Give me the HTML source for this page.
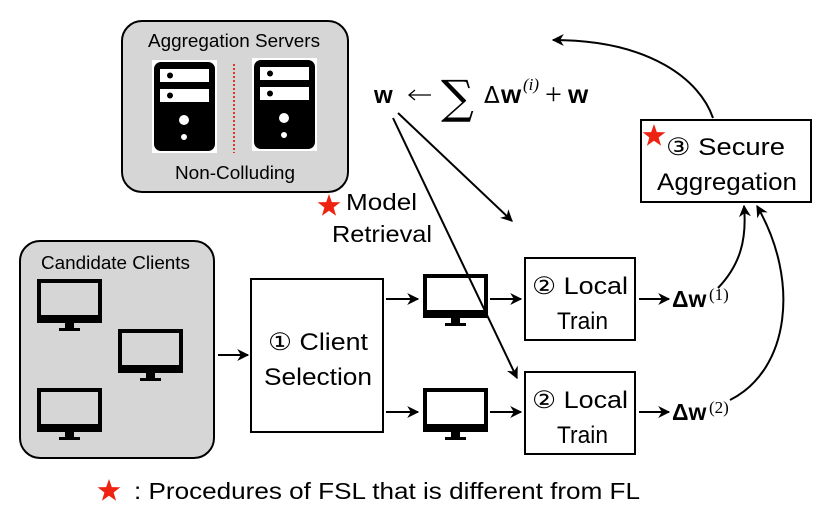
<!DOCTYPE html>
<html><head><meta charset="utf-8"><style>
html,body{margin:0;padding:0;background:#fff;}
svg{display:block;font-family:"Liberation Sans",sans-serif;}
</style></head><body>
<svg width="830" height="518" viewBox="0 0 830 518" xmlns="http://www.w3.org/2000/svg">
<defs>
<marker id="ah" viewBox="0 0 10 10" refX="9" refY="5" markerWidth="6" markerHeight="6" orient="auto"><path d="M0,0 L10,5 L0,10 L3,5 z" fill="#000"/></marker>
<g id="srv">
<rect x="0" y="0" width="65" height="93" fill="#fff"/>
<rect x="2" y="2" width="61" height="89" rx="7" fill="#000"/>
<rect x="8" y="9" width="49" height="13" fill="#fff"/>
<rect x="8" y="29" width="49" height="13" fill="#fff"/>
<circle cx="18" cy="15.5" r="3" fill="#000"/>
<circle cx="18" cy="35.5" r="3" fill="#000"/>
<circle cx="32" cy="60" r="5" fill="#fff"/>
<circle cx="32" cy="77" r="3" fill="#fff"/>
</g>
<g id="mon">
<rect x="2" y="2" width="61" height="40" fill="none" stroke="#000" stroke-width="4"/>
<rect x="0" y="36" width="65" height="8" fill="#000"/>
<rect x="28" y="44" width="9" height="6" fill="#000"/>
<rect x="22" y="49" width="21" height="3" fill="#000"/>
</g>
<path id="star" d="M0,-12 L2.8,-3.9 L11.4,-3.7 L4.6,1.5 L7.1,9.7 L0,4.8 L-7.1,9.7 L-4.6,1.5 L-11.4,-3.7 L-2.8,-3.9 Z" fill="#ee2211"/>
</defs>

<rect x="122" y="21" width="226" height="171" rx="20" fill="#d6d6d6" stroke="#000" stroke-width="2"/>
<text x="148" y="47" font-size="18" textLength="172" lengthAdjust="spacingAndGlyphs">Aggregation Servers</text>
<use href="#srv" x="152" y="60"/>
<use href="#srv" x="252" y="58"/>
<line x1="234" y1="64" x2="234" y2="153" stroke="#e53322" stroke-width="2" stroke-dasharray="2,2"/>
<text x="175" y="179" font-size="18" textLength="120" lengthAdjust="spacingAndGlyphs">Non-Colluding</text>

<rect x="20" y="241" width="194" height="217" rx="20" fill="#d6d6d6" stroke="#000" stroke-width="2"/>
<text x="41" y="269" font-size="18" textLength="149" lengthAdjust="spacingAndGlyphs">Candidate Clients</text>
<use href="#mon" x="37" y="279"/>
<use href="#mon" x="118" y="329"/>
<use href="#mon" x="37" y="388"/>

<line x1="218" y1="355" x2="248" y2="355" stroke="#000" stroke-width="2" marker-end="url(#ah)"/>

<rect x="251" y="279" width="132" height="153" fill="#fff" stroke="#000" stroke-width="2"/>
<text x="268" y="350" font-size="24" textLength="100" lengthAdjust="spacingAndGlyphs">① Client</text>
<text x="264" y="385" font-size="24" textLength="108" lengthAdjust="spacingAndGlyphs">Selection</text>

<line x1="386" y1="299" x2="418" y2="299" stroke="#000" stroke-width="2" marker-end="url(#ah)"/>
<line x1="386" y1="412" x2="418" y2="412" stroke="#000" stroke-width="2" marker-end="url(#ah)"/>
<use href="#mon" x="423" y="274"/>
<use href="#mon" x="423" y="388"/>
<line x1="490" y1="299" x2="521" y2="299" stroke="#000" stroke-width="2" marker-end="url(#ah)"/>
<line x1="490" y1="412" x2="521" y2="412" stroke="#000" stroke-width="2" marker-end="url(#ah)"/>

<rect x="525" y="258" width="110" height="82" fill="#fff" stroke="#000" stroke-width="2"/>
<text x="532" y="294" font-size="24" textLength="96" lengthAdjust="spacingAndGlyphs">② Local</text>
<text x="557" y="329" font-size="24" textLength="51" lengthAdjust="spacingAndGlyphs">Train</text>
<rect x="525" y="372" width="110" height="82" fill="#fff" stroke="#000" stroke-width="2"/>
<text x="532" y="408" font-size="24" textLength="96" lengthAdjust="spacingAndGlyphs">② Local</text>
<text x="557" y="443" font-size="24" textLength="51" lengthAdjust="spacingAndGlyphs">Train</text>

<line x1="639" y1="299" x2="669" y2="299" stroke="#000" stroke-width="2" marker-end="url(#ah)"/>
<line x1="639" y1="412" x2="669" y2="412" stroke="#000" stroke-width="2" marker-end="url(#ah)"/>
<text x="672" y="307" font-size="23" font-weight="bold">Δw</text>
<text x="709" y="300" font-size="17" font-family="Liberation Serif">(1)</text>
<text x="672" y="420" font-size="23" font-weight="bold">Δw</text>
<text x="709" y="413" font-size="17" font-family="Liberation Serif">(2)</text>

<rect x="641" y="120" width="170" height="82" fill="#fff" stroke="#000" stroke-width="2"/>
<text x="666" y="155" font-size="24" textLength="119" lengthAdjust="spacingAndGlyphs">③ Secure</text>
<text x="657" y="190" font-size="24" textLength="140" lengthAdjust="spacingAndGlyphs">Aggregation</text>
<use href="#star" x="654" y="136"/>

<path d="M718,288 C740,265 747,240 744,206" fill="none" stroke="#000" stroke-width="2" marker-end="url(#ah)"/>
<path d="M730,400 C790,370 800,280 757,206" fill="none" stroke="#000" stroke-width="2" marker-end="url(#ah)"/>
<path d="M713,118 C700,80 650,40 553,40" fill="none" stroke="#000" stroke-width="2" marker-end="url(#ah)"/>

<text x="374" y="103" font-size="24" font-weight="bold">w</text>
<line x1="410" y1="95" x2="431" y2="95" stroke="#000" stroke-width="1.3"/>
<path d="M415,90 L409,95 L415,100" fill="none" stroke="#000" stroke-width="1.3"/>
<text x="441" y="113" font-size="46" font-family="DejaVu Serif,serif">∑</text>
<text x="484" y="103" font-size="23" font-family="DejaVu Sans">Δ</text>
<text x="501" y="103" font-size="26" font-weight="bold">w</text>
<text x="523" y="90" font-size="17" font-family="Liberation Serif" font-style="italic">(i)</text>
<text x="545" y="104" font-size="30" font-family="Liberation Serif">+</text>
<text x="568" y="103" font-size="26" font-weight="bold">w</text>

<line x1="398" y1="113" x2="512" y2="221" stroke="#000" stroke-width="2" marker-end="url(#ah)"/>
<line x1="393" y1="118" x2="517" y2="378" stroke="#000" stroke-width="2" marker-end="url(#ah)"/>

<use href="#star" x="329" y="206"/>
<text x="346" y="210" font-size="23" textLength="71" lengthAdjust="spacingAndGlyphs">Model</text>
<text x="332" y="242" font-size="23" textLength="100" lengthAdjust="spacingAndGlyphs">Retrieval</text>

<use href="#star" x="109" y="491"/>
<text x="134" y="499" font-size="23" textLength="506" lengthAdjust="spacingAndGlyphs">: Procedures of FSL that is different from FL</text>
</svg>
</body></html>
